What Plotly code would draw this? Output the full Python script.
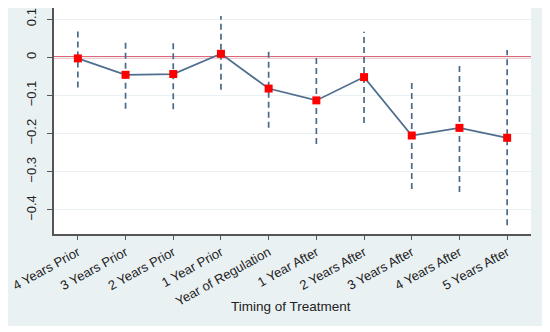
import plotly.graph_objects as go

categories = ["4 Years Prior", "3 Years Prior", "2 Years Prior", "1 Year Prior",
              "Year of Regulation", "1 Year After", "2 Years After", "3 Years After",
              "4 Years After", "5 Years After"]
estimates = [-0.003, -0.046, -0.044, 0.009, -0.082, -0.113, -0.052, -0.205, -0.185, -0.211]
ci_low = [-0.079, -0.135, -0.136, -0.085, -0.185, -0.227, -0.172, -0.345, -0.353, -0.440]
ci_high = [0.073, 0.043, 0.047, 0.108, 0.023, 0.002, 0.067, -0.066, -0.016, 0.019]
y_ticks = [-0.4, -0.3, -0.2, -0.1, 0, 0.1]
y_tick_labels = ["\u22120.4", "\u22120.3", "\u22120.2", "\u22120.1", "0", "0.1"]

# page has an 8px body margin; figure is sized to fit the window
OFF = 8
W, H = 550 - OFF, 332 - OFF
L, R, T, B = 54 - OFF, 19, 8 - OFF, 98
pw, ph = W - L - R, H - T - B

def px_x(p):
    return (p - OFF - L) / pw

def px_y(p):
    return (H - B - (p - OFF)) / ph

fig = go.Figure()

ci_x, ci_y = [], []
for i, c in enumerate(categories):
    ci_x += [i, i, None]
    ci_y += [ci_low[i], ci_high[i], None]
fig.add_trace(go.Scatter(x=ci_x, y=ci_y, mode="lines",
                         line=dict(color="#4A6A8A", width=1.7, dash="6px,4px"),
                         hoverinfo="skip", showlegend=False))

fig.add_trace(go.Scatter(x=list(range(len(categories))), y=estimates, mode="lines+markers",
                         line=dict(color="#4F6E8E", width=1.7),
                         marker=dict(symbol="square", size=8, color="#FF0000"),
                         showlegend=False))

fig.add_shape(type="rect", xref="paper", yref="paper",
              x0=px_x(4), x1=px_x(543), y0=px_y(326), y1=px_y(0),
              fillcolor="#EAF1F3", line=dict(width=0), layer="below")
fig.add_shape(type="rect", xref="paper", yref="paper",
              x0=0, x1=1, y0=0, y1=1,
              fillcolor="white", line=dict(width=0), layer="below")
fig.add_shape(type="line", xref="paper", yref="y",
              x0=0, x1=1, y0=0, y1=0,
              line=dict(color="#D8334E", width=1.8), layer="between")

fig.add_annotation(text="Timing of Treatment", xref="paper", yref="paper",
                   x=0.497, y=px_y(306), xanchor="center", yanchor="middle",
                   showarrow=False, font=dict(size=13.5, color="#222222"))

fig.update_layout(
    width=W, height=H,
    margin=dict(l=L, r=R, t=T, b=B),
    paper_bgcolor="white",
    plot_bgcolor="rgba(0,0,0,0)",
    font=dict(family="Liberation Sans, Arial, sans-serif", color="#222222", size=12),
    xaxis=dict(
        range=[-0.5, len(categories) - 0.5],
        tickmode="array",
        tickvals=list(range(len(categories))),
        ticktext=categories,
        tickangle=-29,
        ticks="outside", ticklen=4, tickcolor="#555555", tickwidth=1,
        showgrid=False, zeroline=False,
        showline=True, linecolor="#555555", linewidth=1.5,
        tickfont=dict(size=13, color="#222222"),
    ),
    yaxis=dict(
        range=[-0.463, 0.129],
        tickmode="array",
        tickvals=y_ticks,
        ticktext=y_tick_labels,
        tickangle=-90,
        ticks="outside", ticklen=5, tickcolor="#555555", tickwidth=1,
        ticklabelstandoff=6,
        showgrid=True, gridcolor="#EAF1F3", gridwidth=1,
        zeroline=False,
        showline=True, linecolor="#555555", linewidth=1.5,
        tickfont=dict(size=13, color="#222222"),
    ),
)

fig.write_html("out.html")
